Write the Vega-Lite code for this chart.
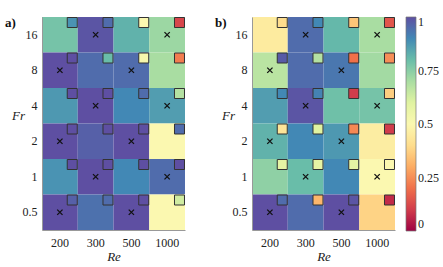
{
  "$schema": "https://vega.github.io/schema/vega-lite/v6.json",
  "padding": {"top": 15, "left": 5, "right": 0, "bottom": 0},
  "datasets": {
    "cells": [
      {"p":"a","Re":200,"Fr":16,"c":0.78,"s":0.88,"x":0},
      {"p":"a","Re":300,"Fr":16,"c":0.99,"s":0.95,"x":1},
      {"p":"a","Re":500,"Fr":16,"c":0.82,"s":0.5,"x":0},
      {"p":"a","Re":1000,"Fr":16,"c":0.72,"s":0.12,"x":1},
      {"p":"a","Re":200,"Fr":8,"c":1.0,"s":1.0,"x":1},
      {"p":"a","Re":300,"Fr":8,"c":0.95,"s":0.8,"x":0},
      {"p":"a","Re":500,"Fr":8,"c":0.95,"s":0.52,"x":1},
      {"p":"a","Re":1000,"Fr":8,"c":0.7,"s":0.22,"x":0},
      {"p":"a","Re":200,"Fr":4,"c":0.87,"s":1.0,"x":0},
      {"p":"a","Re":300,"Fr":4,"c":1.0,"s":1.0,"x":1},
      {"p":"a","Re":500,"Fr":4,"c":0.9,"s":0.95,"x":0},
      {"p":"a","Re":1000,"Fr":4,"c":0.86,"s":0.68,"x":1},
      {"p":"a","Re":200,"Fr":2,"c":1.0,"s":1.0,"x":1},
      {"p":"a","Re":300,"Fr":2,"c":0.97,"s":1.0,"x":0},
      {"p":"a","Re":500,"Fr":2,"c":1.0,"s":1.0,"x":1},
      {"p":"a","Re":1000,"Fr":2,"c":0.5,"s":0.95,"x":0},
      {"p":"a","Re":200,"Fr":1,"c":0.88,"s":1.0,"x":0},
      {"p":"a","Re":300,"Fr":1,"c":1.0,"s":1.0,"x":1},
      {"p":"a","Re":500,"Fr":1,"c":0.9,"s":1.0,"x":0},
      {"p":"a","Re":1000,"Fr":1,"c":0.95,"s":1.0,"x":1},
      {"p":"a","Re":200,"Fr":0.5,"c":1.0,"s":0.97,"x":1},
      {"p":"a","Re":300,"Fr":0.5,"c":0.94,"s":0.95,"x":0},
      {"p":"a","Re":500,"Fr":0.5,"c":1.0,"s":1.0,"x":1},
      {"p":"a","Re":1000,"Fr":0.5,"c":0.5,"s":0.63,"x":0},
      {"p":"b","Re":200,"Fr":16,"c":0.45,"s":0.4,"x":0},
      {"p":"b","Re":300,"Fr":16,"c":0.95,"s":0.9,"x":1},
      {"p":"b","Re":500,"Fr":16,"c":0.81,"s":0.35,"x":0},
      {"p":"b","Re":1000,"Fr":16,"c":0.7,"s":0.15,"x":1},
      {"p":"b","Re":200,"Fr":8,"c":0.67,"s":0.98,"x":1},
      {"p":"b","Re":300,"Fr":8,"c":0.95,"s":0.68,"x":0},
      {"p":"b","Re":500,"Fr":8,"c":0.93,"s":0.2,"x":1},
      {"p":"b","Re":1000,"Fr":8,"c":0.71,"s":0.25,"x":0},
      {"p":"b","Re":200,"Fr":4,"c":0.86,"s":0.9,"x":0},
      {"p":"b","Re":300,"Fr":4,"c":0.99,"s":0.91,"x":1},
      {"p":"b","Re":500,"Fr":4,"c":0.79,"s":0.1,"x":0},
      {"p":"b","Re":1000,"Fr":4,"c":0.78,"s":0.37,"x":1},
      {"p":"b","Re":200,"Fr":2,"c":0.82,"s":0.43,"x":1},
      {"p":"b","Re":300,"Fr":2,"c":0.9,"s":0.6,"x":0},
      {"p":"b","Re":500,"Fr":2,"c":0.87,"s":0.24,"x":1},
      {"p":"b","Re":1000,"Fr":2,"c":0.46,"s":0.1,"x":0},
      {"p":"b","Re":200,"Fr":1,"c":0.74,"s":0.58,"x":0},
      {"p":"b","Re":300,"Fr":1,"c":0.8,"s":0.58,"x":1},
      {"p":"b","Re":500,"Fr":1,"c":0.9,"s":0.58,"x":0},
      {"p":"b","Re":1000,"Fr":1,"c":0.5,"s":0.5,"x":1},
      {"p":"b","Re":200,"Fr":0.5,"c":1.0,"s":0.95,"x":1},
      {"p":"b","Re":300,"Fr":0.5,"c":0.95,"s":0.32,"x":0},
      {"p":"b","Re":500,"Fr":0.5,"c":1.0,"s":0.99,"x":1},
      {"p":"b","Re":1000,"Fr":0.5,"c":0.38,"s":0.07,"x":0}
    ]
  },
  "config": {
    "font": "Liberation Serif, DejaVu Serif, serif",
    "view": {"stroke": null},
    "axis": {
      "domainColor": "#999",
      "ticks": false,
      "tickSize": 0,
      "grid": false,
      "labelFont": "Liberation Serif, DejaVu Serif, serif",
      "labelFontSize": 12,
      "labelColor": "#222",
      "titleFont": "Liberation Serif, DejaVu Serif, serif",
      "titleFontSize": 13,
      "titleFontStyle": "italic",
      "titleFontWeight": "normal",
      "titleColor": "#222"
    },
    "axisX": {"labelPadding": 7, "titlePadding": 2, "labelAngle": 0},
    "axisY": {"labelPadding": 5, "titleAngle": 0, "titleX": -24, "titleY": 98, "titleAlign": "center", "titleBaseline": "middle"},
    "title": {"font": "Liberation Serif, DejaVu Serif, serif", "fontSize": 13, "fontWeight": "bold", "anchor": "start", "frame": "group", "baseline": "alphabetic", "offset": 0, "color": "#111"},
    "legend": {
      "labelFont": "Liberation Serif, DejaVu Serif, serif",
      "labelFontSize": 12,
      "labelColor": "#222",
      "labelBaseline": "middle",
      "gradientLength": 214,
      "gradientThickness": 10,
      "gradientStrokeColor": "#777",
      "gradientStrokeWidth": 0.7,
      "labelOffset": 8,
      "padding": 0,
      "offset": 9
    }
  },
  "spacing": 67,
  "bounds": "flush",
  "hconcat": [
    {
      "width": 143,
      "height": 213,
      "title": {"text": "a)", "dx": -37, "dy": 18},
      "data": {"name": "cells"},
      "transform": [{"filter": "datum.p === 'a'"}],
      "encoding": {
        "x": {"field": "Re", "type": "ordinal", "sort": "ascending", "scale": {"paddingInner": 0, "paddingOuter": 0}, "axis": {"title": "Re"}},
        "y": {"field": "Fr", "type": "ordinal", "sort": "descending", "scale": {"paddingInner": 0, "paddingOuter": 0}, "axis": {"title": "Fr"}}
      },
      "layer": [
        {
          "mark": {"type": "rect", "opacity": 1},
          "encoding": {
            "color": {"field": "c", "type": "quantitative", "scale": {"scheme": "spectral", "domain": [0, 1]},
              "legend": {"title": null, "values": [0, 0.25, 0.5, 0.75, 1], "labelExpr": "datum.value === 0 ? '0' : datum.value === 1 ? '1' : format(datum.value, '.2~f')"}}
          }
        },
        {
          "mark": {"type": "square", "size": 100, "stroke": "#333", "strokeWidth": 1, "opacity": 1},
          "encoding": {
            "x": {"field": "Re", "type": "ordinal", "sort": "ascending", "bandPosition": 0.846},
            "y": {"field": "Fr", "type": "ordinal", "sort": "descending", "bandPosition": 0.155},
            "color": {"field": "s", "type": "quantitative", "scale": {"scheme": "spectral", "domain": [0, 1]},
              "legend": {"title": null, "values": [0, 0.25, 0.5, 0.75, 1], "labelExpr": "datum.value === 0 ? '0' : datum.value === 1 ? '1' : format(datum.value, '.2~f')"}}
          }
        },
        {
          "transform": [{"filter": "datum.x === 1"}],
          "mark": {"type": "point", "shape": "M-1,-1L1,1M-1,1L1,-1", "filled": false, "color": "#111", "size": 28, "strokeWidth": 1.3, "opacity": 1},
          "encoding": {}
        }
      ]
    },
    {
      "width": 143,
      "height": 213,
      "title": {"text": "b)", "dx": -37, "dy": 18},
      "data": {"name": "cells"},
      "transform": [{"filter": "datum.p === 'b'"}],
      "encoding": {
        "x": {"field": "Re", "type": "ordinal", "sort": "ascending", "scale": {"paddingInner": 0, "paddingOuter": 0}, "axis": {"title": "Re"}},
        "y": {"field": "Fr", "type": "ordinal", "sort": "descending", "scale": {"paddingInner": 0, "paddingOuter": 0}, "axis": {"title": "Fr"}}
      },
      "layer": [
        {
          "mark": {"type": "rect", "opacity": 1},
          "encoding": {
            "color": {"field": "c", "type": "quantitative", "scale": {"scheme": "spectral", "domain": [0, 1]},
              "legend": {"title": null, "values": [0, 0.25, 0.5, 0.75, 1], "labelExpr": "datum.value === 0 ? '0' : datum.value === 1 ? '1' : format(datum.value, '.2~f')"}}
          }
        },
        {
          "mark": {"type": "square", "size": 100, "stroke": "#333", "strokeWidth": 1, "opacity": 1},
          "encoding": {
            "x": {"field": "Re", "type": "ordinal", "sort": "ascending", "bandPosition": 0.846},
            "y": {"field": "Fr", "type": "ordinal", "sort": "descending", "bandPosition": 0.155},
            "color": {"field": "s", "type": "quantitative", "scale": {"scheme": "spectral", "domain": [0, 1]},
              "legend": {"title": null, "values": [0, 0.25, 0.5, 0.75, 1], "labelExpr": "datum.value === 0 ? '0' : datum.value === 1 ? '1' : format(datum.value, '.2~f')"}}
          }
        },
        {
          "transform": [{"filter": "datum.x === 1"}],
          "mark": {"type": "point", "shape": "M-1,-1L1,1M-1,1L1,-1", "filled": false, "color": "#111", "size": 28, "strokeWidth": 1.3, "opacity": 1},
          "encoding": {}
        }
      ]
    }
  ]
}
